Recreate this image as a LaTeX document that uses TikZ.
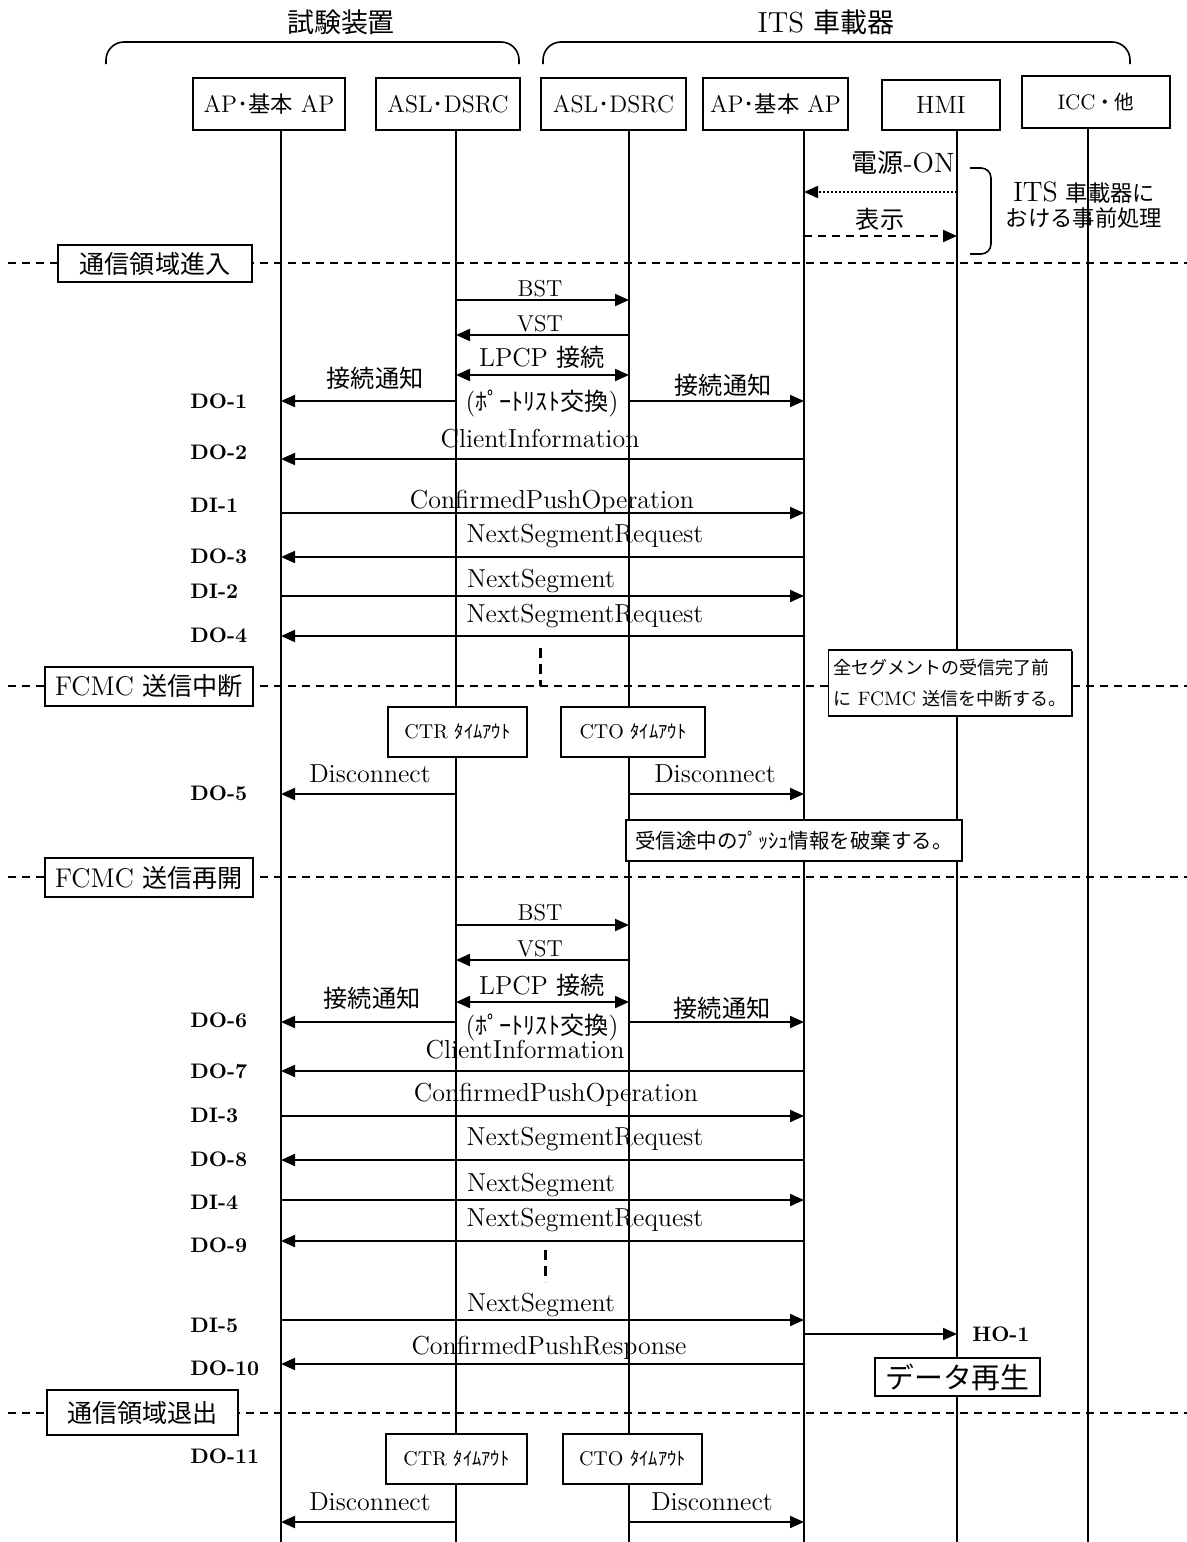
\documentclass[tikz,border=0pt]{standalone}
\usepackage{fontspec}
\newfontfamily\jpfont[Scale=0.93]{Noto Sans CJK JP}
\newcommand{\ja}[1]{{\jpfont #1}}
\usetikzlibrary{arrows.meta, shadows}
\definecolor{seqLine}{HTML}{000000}
\definecolor{boxFill}{HTML}{FFFFFF}
\definecolor{seqText}{HTML}{000000}

\begin{document}
\begin{tikzpicture}[
  x=0.5pt, y=-0.5pt,
  text=seqText,
  shade/.style ={drop shadow={shadow xshift=0.6pt, shadow yshift=-0.6pt, opacity=1, fill=seqLine}},
  head/.style  ={draw=seqLine, fill=boxFill, line width=0.8pt, shade, inner sep=0pt, minimum height=26pt, font=\fontsize{12}{14}\selectfont},
  life/.style  ={draw=seqLine, line width=0.6pt},
  msg/.style   ={-{Triangle[length=7pt, width=6pt]}, draw=seqLine, line width=1pt},
  bidir/.style ={{Triangle[length=7pt, width=6pt]}-{Triangle[length=7pt, width=6pt]}, draw=seqLine, line width=1pt},
  lbl/.style   ={anchor=base, inner sep=0pt, font=\fontsize{13}{15}\selectfont},
  small/.style ={lbl, font=\fontsize{11.5}{13}\selectfont},
  tag/.style   ={anchor=west, inner sep=0pt, font=\bfseries\fontsize{10.5}{12}\selectfont},
  sepline/.style={draw=seqLine, line width=0.7pt, dash pattern=on 4pt off 3pt},
  phase/.style ={draw=seqLine, fill=boxFill, line width=0.7pt, shade, inner sep=0pt, font=\fontsize{13.5}{15}\selectfont},
  timer/.style ={draw=seqLine, fill=boxFill, line width=0.7pt, shade, inner sep=0pt, minimum height=25pt, font=\fontsize{10}{12}\selectfont},
  note/.style  ={draw=seqLine, fill=boxFill, line width=0.7pt, shade, inner sep=0pt, align=left, font=\fontsize{11}{15.5}\selectfont},
  gap/.style   ={draw=seqLine, line width=1.5pt, dash pattern=on 5pt off 3pt},
  brace/.style ={draw=seqLine, line width=0.8pt, rounded corners=9pt},
]
\useasboundingbox (0,0) rectangle (1187,1542);
% ----- Lifelines -----
\coordinate (bot) at (0,1542);
\coordinate (l1) at (281,120);
\coordinate (l2) at (456,120);
\coordinate (l3) at (629,120);
\coordinate (l4) at (804,120);
\coordinate (l5) at (957,120);
\coordinate (l6) at (1088,120);
\foreach \l in {l1,l2,l3,l4,l5,l6}
  \draw[life] (\l) -- (\l |- bot);
% ----- Groups -----
\node[font=\fontsize{14.5}{16}\selectfont] (grpT) at (341,22) {\ja{試験装置}};
\node[font=\fontsize{14.5}{16}\selectfont] (grpV) at (826,22) {ITS \ja{車載器}};
\draw[brace] (106,64) -- (106,42) -- (519,42) -- (519,64);
\draw[brace] (543,64) -- (543,42) -- (1130,42) -- (1130,64);
\node[head, minimum width=76pt] (tAP)  at (269,104)   {AP\ja{･基本} AP};
\node[head, minimum width=72pt] (tASL) at (448,104)   {ASL\ja{･}DSRC};
\node[head, minimum width=72.5pt] (vASL) at (613.5,104) {ASL\ja{･}DSRC};
\node[head, minimum width=72.5pt] (vAP)  at (775.5,104) {AP\ja{･基本} AP};
\node[head, minimum width=59pt, minimum height=25pt, font=\fontsize{12.5}{14}\selectfont] (hmi) at (941,105) {HMI};
\node[head, minimum width=74pt, font=\fontsize{10.5}{12}\selectfont] (icc) at (1096,102) {ICC\ja{・他}};
% ----- Pre-processing -----
\node[lbl, font=\fontsize{14}{16}\selectfont] (pwr) at (903,172) {\ja{電源}-ON};
\draw[msg, dash pattern=on 1pt off 1pt] (l5 |- 0,192) -- (l4 |- 0,192);
\node[lbl] (disp) at (880,228) {\ja{表示}};
\draw[msg, dash pattern=on 4pt off 3pt] (l4 |- 0,236) -- (l5 |- 0,236);
\draw[brace, rounded corners=5pt] (970,168) -- (991,168) -- (991,254) -- (970,254);
\node[align=center, inner sep=0pt, font=\fontsize{12}{12.5}\selectfont] (pre) at (1084,205)
  {{\fontsize{14}{12.5}\selectfont ITS} \ja{車載器に}\\\ja{おける事前処理}};
% ----- Phase 1 -----
\draw[sepline] (8,263) -- (1187,263);
\node[phase, minimum width=97pt, minimum height=18.5pt] (enter) at (155,263.5) {\ja{通信領域進入}};
\draw[msg] (l2 |- 0,300) -- (l3 |- 0,300);
\node[small] (bst1) at (540,296) {BST};
\draw[msg] (l3 |- 0,335) -- (l2 |- 0,335);
\node[small] (vst1) at (540,331) {VST};
\draw[bidir] (l2 |- 0,375) -- (l3 |- 0,375);
\node[lbl] (lpcp1) at (542,366) {LPCP \ja{接続}};
\draw[msg] (l2 |- 0,401) -- (l1 |- 0,401);
\node[lbl] (ntfA1) at (375,387) {\ja{接続通知}};
\draw[msg] (l3 |- 0,401) -- (l4 |- 0,401);
\node[lbl] (ntfB1) at (723,394) {\ja{接続通知}};
\node[lbl] (port1) at (542,410) {(\ja{ﾎﾟｰﾄﾘｽﾄ交換})};
\node[tag] (do1) at (190,401) {DO-1};
\draw[msg] (l4 |- 0,459) -- (l1 |- 0,459);
\node[lbl] (ci1) at (540,447) {ClientInformation};
\node[tag] (do2) at (190,452) {DO-2};
\draw[msg] (l1 |- 0,513) -- (l4 |- 0,513);
\node[lbl] (cpo1) at (552,508) {ConfirmedPushOperation};
\node[tag] (di1) at (190,505) {DI-1};
\draw[msg] (l4 |- 0,557) -- (l1 |- 0,557);
\node[lbl] (nsr1) at (585,542) {NextSegmentRequest};
\node[tag] (do3) at (190,556) {DO-3};
\draw[msg] (l1 |- 0,596) -- (l4 |- 0,596);
\node[lbl] (ns1) at (541,587) {NextSegment};
\node[tag] (di2) at (190,591) {DI-2};
\draw[msg] (l4 |- 0,636) -- (l1 |- 0,636);
\node[lbl] (nsr2) at (585,622) {NextSegmentRequest};
\node[tag] (do4) at (190,635) {DO-4};
\draw[gap] (540,648) -- (540,686);
% ----- Phase 2 -----
\draw[sepline] (8,686) -- (1187,686);
\node[phase, minimum width=104pt, minimum height=19.5pt] (stop) at (149,686.5) {FCMC \ja{送信中断}};
\node[note, minimum width=121.5pt, minimum height=33pt, font=\fontsize{9.7}{15.5}\selectfont] (note1) at (950,683)
  {\ja{全セグメントの受信完了前}\\\ja{に} FCMC \ja{送信を中断する。}};
\node[timer, minimum width=69.5pt] (ctr1) at (457.5,732) {CTR \ja{ﾀｲﾑｱｳﾄ}};
\node[timer, minimum width=72pt] (cto1) at (633,732) {CTO \ja{ﾀｲﾑｱｳﾄ}};
\draw[msg] (l2 |- 0,794) -- (l1 |- 0,794);
\node[lbl] (dcA1) at (370,782) {Disconnect};
\draw[msg] (l3 |- 0,794) -- (l4 |- 0,794);
\node[lbl] (dcB1) at (715,782) {Disconnect};
\node[tag] (do5) at (190,793) {DO-5};
\node[note, minimum width=168pt, minimum height=20.5pt] (note2) at (794,840.5)
  {\ja{受信途中のﾌﾟｯｼｭ情報を破棄する。}};
% ----- Phase 3 -----
\draw[sepline] (8,877) -- (1187,877);
\node[phase, minimum width=104pt, minimum height=19.5pt] (resume) at (149,877.5) {FCMC \ja{送信再開}};
\draw[msg] (l2 |- 0,925) -- (l3 |- 0,925);
\node[small] (bst2) at (540,920) {BST};
\draw[msg] (l3 |- 0,960) -- (l2 |- 0,960);
\node[small] (vst2) at (540,956) {VST};
\draw[bidir] (l2 |- 0,1002) -- (l3 |- 0,1002);
\node[lbl] (lpcp2) at (542,994) {LPCP \ja{接続}};
\draw[msg] (l2 |- 0,1022) -- (l1 |- 0,1022);
\node[lbl] (ntfA2) at (372,1007) {\ja{接続通知}};
\draw[msg] (l3 |- 0,1022) -- (l4 |- 0,1022);
\node[lbl] (ntfB2) at (722,1017) {\ja{接続通知}};
\node[lbl] (port2) at (542,1034) {(\ja{ﾎﾟｰﾄﾘｽﾄ交換})};
\node[tag] (do6) at (190,1020) {DO-6};
\draw[msg] (l4 |- 0,1071) -- (l1 |- 0,1071);
\node[lbl] (ci2) at (525,1058) {ClientInformation};
\node[tag] (do7) at (190,1071) {DO-7};
\draw[msg] (l1 |- 0,1116) -- (l4 |- 0,1116);
\node[lbl] (cpo2) at (556,1101) {ConfirmedPushOperation};
\node[tag] (di3) at (190,1115) {DI-3};
\draw[msg] (l4 |- 0,1160) -- (l1 |- 0,1160);
\node[lbl] (nsr3) at (585,1145) {NextSegmentRequest};
\node[tag] (do8) at (190,1159) {DO-8};
\draw[msg] (l1 |- 0,1200) -- (l4 |- 0,1200);
\node[lbl] (ns2) at (541,1191) {NextSegment};
\node[tag] (di4) at (190,1202) {DI-4};
\draw[msg] (l4 |- 0,1241) -- (l1 |- 0,1241);
\node[lbl] (nsr4) at (585,1226) {NextSegmentRequest};
\node[tag] (do9) at (190,1245) {DO-9};
\draw[gap] (545,1250) -- (545,1282);
\draw[msg] (l1 |- 0,1320) -- (l4 |- 0,1320);
\node[lbl] (ns3) at (541,1311) {NextSegment};
\node[tag] (di5) at (190,1325) {DI-5};
\draw[msg] (l4 |- 0,1334) -- (l5 |- 0,1334);
\node[tag] (ho1) at (972,1334) {HO-1};
\draw[msg] (l4 |- 0,1364) -- (l1 |- 0,1364);
\node[lbl] (cpr) at (549,1354) {ConfirmedPushResponse};
\node[tag] (do10) at (190,1368) {DO-10};
\node[phase, minimum width=82.5pt, minimum height=19pt, font=\fontsize{15.5}{17}\selectfont] (play) at (957.5,1377) {\ja{データ再生}};
% ----- Phase 4 -----
\draw[sepline] (8,1413) -- (1187,1413);
\node[phase, minimum width=95.5pt, minimum height=22.5pt] (leave) at (142.5,1412.5) {\ja{通信領域退出}};
\node[tag] (do11) at (190,1456) {DO-11};
\node[timer, minimum width=70.5pt] (ctr2) at (456.5,1459) {CTR \ja{ﾀｲﾑｱｳﾄ}};
\node[timer, minimum width=69.5pt] (cto2) at (632.5,1459) {CTO \ja{ﾀｲﾑｱｳﾄ}};
\draw[msg] (l2 |- 0,1522) -- (l1 |- 0,1522);
\node[lbl] (dcA2) at (370,1510) {Disconnect};
\draw[msg] (l3 |- 0,1522) -- (l4 |- 0,1522);
\node[lbl] (dcB2) at (712,1510) {Disconnect};
\end{tikzpicture}
\end{document}
